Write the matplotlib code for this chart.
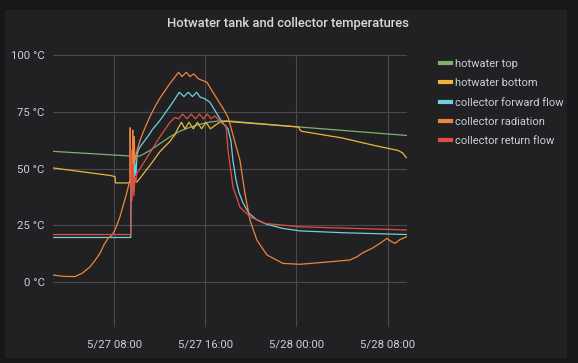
import numpy as np
import matplotlib.pyplot as plt
from matplotlib.lines import Line2D
from matplotlib.patches import Rectangle

plt.rcParams['font.family'] = ['Roboto', 'DejaVu Sans']

# hours since 5/27 00:00
top_t = [2.62, 9.9, 10.26, 11.14, 12.01, 12.89, 13.77, 14.65, 15.5, 16.4, 17.3, 18.0, 24.3, 33.65]
top_v = [57.6, 55.4, 55.6, 58.0, 61.0, 64.0, 66.5, 68.2, 69.5, 70.5, 71.0, 71.0, 68.3, 64.6]

bot_t = [2.62, 7.62, 8.06, 8.1, 9.2, 9.4, 9.5, 9.6, 9.7, 9.97, 10.26, 11.14, 12.01, 12.89,
         13.33, 13.57, 13.9, 14.21, 14.56, 14.94, 15.3, 15.67, 16.05, 16.45, 16.84, 17.3,
         17.8, 24.2, 24.31, 24.48, 28.0, 31.0, 32.91, 33.3, 33.65]
bot_v = [50.3, 47.0, 46.5, 43.7, 43.7, 44.0, 48.0, 41.0, 45.0, 44.0, 45.8, 51.5, 57.5, 62.0,
         65.0, 67.5, 70.4, 67.5, 70.4, 67.5, 70.4, 67.5, 70.4, 67.5, 69.0, 70.5,
         70.8, 68.3, 67.0, 66.4, 63.5, 60.0, 58.0, 57.0, 54.8]

fwd_t = [2.62, 9.45, 9.47, 9.55, 9.62, 9.7, 9.8, 9.9, 10.0, 10.1, 10.26, 11.14, 11.29, 12.01,
         13.06, 13.71, 14.12, 14.5, 14.87, 15.24, 15.53, 15.97, 16.4, 16.84, 17.46, 17.99,
         18.25, 18.42, 18.69, 18.95, 19.3, 19.8, 20.5, 21.4, 22.78, 24.31, 28.0, 33.65]
fwd_v = [19.7, 19.7, 55.0, 42.0, 50.0, 40.0, 53.0, 47.0, 56.0, 58.0, 59.5, 65.5, 66.8, 71.2,
         78.6, 83.6, 81.7, 83.6, 81.7, 83.6, 81.5, 80.7, 79.2, 75.6, 70.4, 67.5,
         62.0, 53.6, 45.0, 39.5, 35.0, 30.5, 27.5, 25.5, 23.7, 22.6, 21.8, 21.0]

rad_t = [2.62, 3.5, 4.55, 5.2, 5.87, 6.3, 6.74, 7.1, 7.45, 7.8, 8.06, 8.5, 9.08, 9.38,
         9.4, 9.42, 9.6, 9.62, 9.66, 9.76, 9.8, 10.0, 10.26, 10.7, 11.14, 11.6, 12.01, 12.89,
         13.65, 13.95, 14.33, 14.65, 14.97, 15.4, 15.79, 16.14, 16.58, 17.11, 17.58, 17.99,
         18.25, 19.04, 19.48, 19.92, 20.53, 21.41, 22.81, 24.31, 26.94, 28.7, 29.31, 29.84,
         30.63, 31.33, 31.95, 32.3, 32.65, 33.1, 33.65]
rad_v = [3.2, 2.6, 2.5, 4.0, 6.8, 9.5, 12.7, 16.5, 19.3, 20.7, 23.0, 28.8, 39.0, 45.0,
         68.0, 46.0, 49.0, 67.0, 48.0, 64.0, 53.0, 58.0, 62.4, 68.0, 73.0, 77.5, 81.0, 87.5,
         92.4, 90.5, 92.4, 90.5, 91.7, 89.5, 88.7, 88.0, 84.3, 80.0, 76.3, 72.6,
         68.0, 53.6, 39.0, 27.3, 18.5, 12.0, 8.3, 7.9, 9.0, 9.8, 11.2, 13.0,
         14.9, 17.1, 19.3, 18.0, 17.1, 18.8, 20.0]

ret_t = [2.62, 9.45, 9.5, 9.56, 9.64, 9.72, 9.82, 9.9, 9.97, 10.26, 11.14, 12.01, 12.89,
         13.33, 13.65, 14.0, 14.39, 14.75, 15.13, 15.48, 15.84, 16.16, 16.5, 16.84, 17.5,
         17.81, 17.99, 18.42, 19.04, 19.92, 21.2, 24.31, 33.65]
ret_v = [21.0, 21.0, 58.0, 36.0, 52.0, 38.0, 46.0, 44.0, 47.8, 50.0, 57.0, 64.0, 70.4,
         72.5, 71.9, 74.0, 71.9, 74.0, 71.9, 74.0, 71.9, 74.0, 72.0, 73.2, 69.7,
         69.0, 58.0, 42.0, 33.0, 28.8, 25.9, 24.4, 23.0]

series = [
    ('hotwater top', top_t, top_v, '#7eb26d'),
    ('hotwater bottom', bot_t, bot_v, '#eab839'),
    ('collector forward flow', fwd_t, fwd_v, '#6ed0e0'),
    ('collector radiation', rad_t, rad_v, '#ef843c'),
    ('collector return flow', ret_t, ret_v, '#e24d42'),
]

x_ticks = [8, 16, 24, 32]
x_labels = ['5/27 08:00', '5/27 16:00', '5/28 00:00', '5/28 08:00']
y_ticks = [0, 25, 50, 75, 100]
y_labels = ['0 °C', '25 °C', '50 °C', '75 °C', '100 °C']

fig = plt.figure(figsize=(5.78, 3.63), dpi=100)
fig.patch.set_facecolor('#161719')
fig.patches.append(Rectangle((5 / 578, 1 - 358 / 363), 562 / 578, 348 / 363,
                             transform=fig.transFigure, facecolor='#212124',
                             edgecolor='none', zorder=-5))

ax = fig.add_axes([53 / 578, 1 - 327 / 363, 353.7 / 578, 272 / 363])
ax.set_facecolor('none')
for name, t, v, c in series:
    ax.plot(t, v, color=c, lw=0.9, label=name)

ax.set_xlim(2.62, 33.68)
ax.set_ylim(-19.7, 100)
ax.set_xticks(x_ticks)
ax.set_xticklabels(x_labels)
ax.set_yticks(y_ticks)
ax.set_yticklabels(y_labels)
ax.grid(True, color='#4a4a4c', lw=0.8)
ax.set_axisbelow(True)
ax.tick_params(length=0, colors='#c7d0d9', labelsize=8.2)
ax.tick_params(axis='y', pad=6)
ax.tick_params(axis='x', pad=9)
for s in ax.spines.values():
    s.set_visible(False)

fig.text(288 / 578, 1 - 23 / 363, 'Hotwater tank and collector temperatures',
         ha='center', va='center', color='#d8d9da', fontsize=9.4, fontweight='medium')

handles = [Line2D([], [], color=c, lw=3) for _, _, _, c in series]
leg = fig.legend(handles, [s[0] for s in series], loc='upper left',
                 bbox_to_anchor=(440 / 578, 1 - 59 / 363), frameon=False,
                 fontsize=8.0, labelcolor='#c7d0d9', handlelength=1.0,
                 handletextpad=0.38, labelspacing=0.84, borderpad=0, borderaxespad=0)

fig.savefig('out.png', dpi=100, facecolor=fig.get_facecolor())
